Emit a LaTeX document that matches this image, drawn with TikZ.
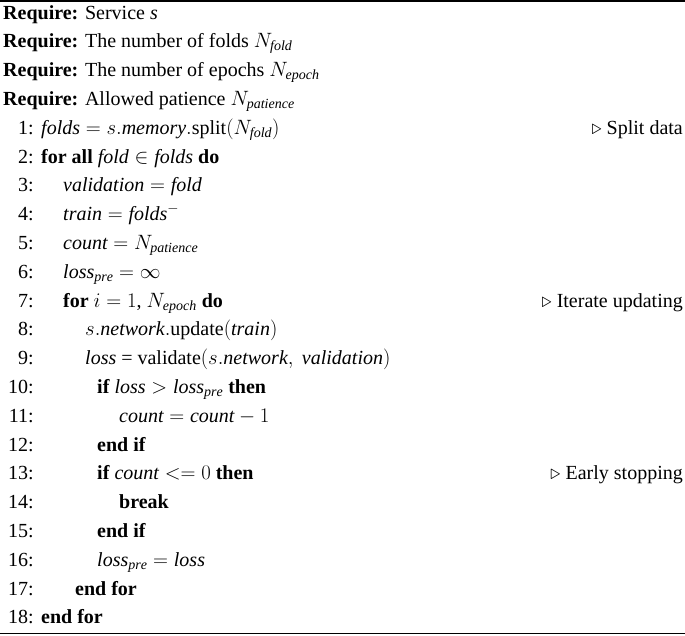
\documentclass[tikz,border=0pt]{standalone}
\usepackage{fontspec}
\setmainfont{Liberation Serif}
\newcommand\vi[1]{\textit{#1}}
\newcommand\kw[1]{\textbf{#1}}
\begin{document}
\begin{tikzpicture}[x=1pt,y=1pt,
  txt/.style={anchor=base west,inner sep=0pt,font=\fontsize{20}{24}\selectfont},
  num/.style={anchor=base east,inner sep=0pt,font=\fontsize{20}{24}\selectfont},
  cmt/.style={anchor=base east,inner sep=0pt,font=\fontsize{20}{24}\selectfont}]
\useasboundingbox (0,0) rectangle (685,-635);
\draw[line width=1.2pt] (0,-1) -- (685,-1);
\draw[line width=1pt] (0,-633) -- (685,-633);
\def\L#1{-(19+#1*28.8)}
\node[txt] (r1) at (3,{-(19+0*28.8)}) {\kw{Require:} Service \vi{s}};
\node[txt] (r2) at (3,{-(19+1*28.8)}) {\kw{Require:} The number of folds $N_{\mathit{fold}}$};
\node[txt] (r3) at (3,{-(19+2*28.8)}) {\kw{Require:} The number of epochs $N_{\mathit{epoch}}$};
\node[txt] (r4) at (3,{-(19+3*28.8)}) {\kw{Require:} Allowed patience $N_{\mathit{patience}}$};
\foreach \n/\k in {1/4,2/5,3/6,4/7,5/8,6/9,7/10,8/11,9/12,10/13,11/14,12/15,13/16,14/17,15/18,16/19,17/20,18/21}
  \node[num] (n\n) at (34,{-(19+\k*28.8)}) {\n:};
\node[txt] (l1) at (41,{-(19+4*28.8)}) {$\mathit{folds} = s.\mathit{memory}.$split$(N_{\mathit{fold}})$};
\node[cmt] (c1) at (683,{-(19+4*28.8)}) {$\triangleright$ Split data};
\node[txt] (l2) at (41,{-(19+5*28.8)}) {\kw{for all} $\mathit{fold} \in \mathit{folds}$ \kw{do}};
\node[txt] (l3) at (63,{-(19+6*28.8)}) {$\mathit{validation} = \mathit{fold}$};
\node[txt] (l4) at (63,{-(19+7*28.8)}) {$\mathit{train} = \mathit{folds}^{-}$};
\node[txt] (l5) at (63,{-(19+8*28.8)}) {$\mathit{count} = N_{\mathit{patience}}$};
\node[txt] (l6) at (63,{-(19+9*28.8)}) {$\mathit{loss}_{\mathit{pre}} = \infty$};
\node[txt] (l7) at (63,{-(19+10*28.8)}) {\kw{for} $i = 1$, $N_{\mathit{epoch}}$ \kw{do}};
\node[cmt] (c7) at (683,{-(19+10*28.8)}) {$\triangleright$ Iterate updating};
\node[txt] (l8) at (85,{-(19+11*28.8)}) {$s.\mathit{network}.$update$(\mathit{train})$};
\node[txt] (l9) at (85,{-(19+12*28.8)}) {$\mathit{loss}$ = validate$(s.\mathit{network},\ \mathit{validation})$};
\node[txt] (l10) at (97,{-(19+13*28.8)}) {\kw{if} $\mathit{loss} > \mathit{loss}_{\mathit{pre}}$ \kw{then}};
\node[txt] (l11) at (119,{-(19+14*28.8)}) {$\mathit{count} = \mathit{count} - 1$};
\node[txt] (l12) at (97,{-(19+15*28.8)}) {\kw{end if}};
\node[txt] (l13) at (97,{-(19+16*28.8)}) {\kw{if} $\mathit{count} <= 0$ \kw{then}};
\node[cmt] (c13) at (683,{-(19+16*28.8)}) {$\triangleright$ Early stopping};
\node[txt] (l14) at (119,{-(19+17*28.8)}) {\kw{break}};
\node[txt] (l15) at (97,{-(19+18*28.8)}) {\kw{end if}};
\node[txt] (l16) at (97,{-(19+19*28.8)}) {$\mathit{loss}_{\mathit{pre}} = \mathit{loss}$};
\node[txt] (l17) at (75,{-(19+20*28.8)}) {\kw{end for}};
\node[txt] (l18) at (41,{-(19+21*28.8)}) {\kw{end for}};
\end{tikzpicture}
\end{document}
